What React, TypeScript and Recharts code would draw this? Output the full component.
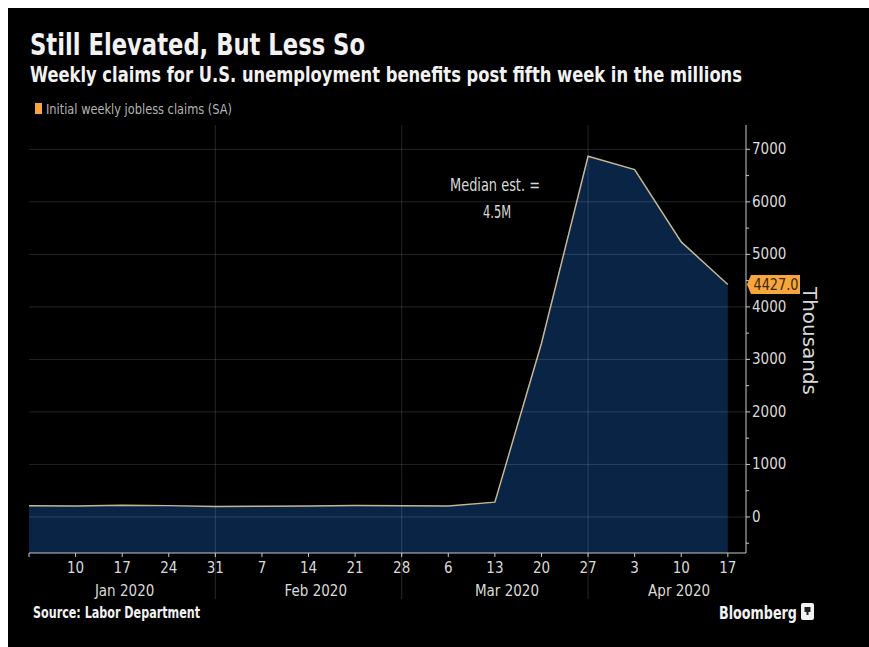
import React from 'react';
import { AreaChart, Area, XAxis, YAxis, ReferenceLine } from 'recharts';

// week-ending dates (Jan 3 .. Apr 17, 2020)
const WEEK_LABELS = ['3', '10', '17', '24', '31', '7', '14', '21', '28', '6', '13', '20', '27', '3', '10', '17'];
// initial weekly jobless claims, thousands (SA)
const CLAIMS = [214, 207, 223, 216, 201, 205, 210, 219, 216, 211, 282, 3307, 6867, 6615, 5237, 4427];
const MONTH_LABELS = ['Jan 2020', 'Feb 2020', 'Mar 2020', 'Apr 2020'];
const MONTH_POS = [2, 6, 10, 13.6];
const MONTH_BREAKS = [4, 8, 12];
const Y_TICKS = [-500, 0, 500, 1000, 1500, 2000, 2500, 3000, 3500, 4000, 4500, 5000, 5500, 6000, 6500, 7000];
const GRID_Y = [0, 1000, 2000, 3000, 4000, 5000, 6000, 7000];

const data = CLAIMS.map((v, i) => ({ i, claims: v, label: WEEK_LABELS[i] }));

const FONT = "'Liberation Sans Narrow', 'DejaVu Sans Condensed', 'Roboto', sans-serif";
const TXT = '#d9d9d9';
const GRID = 'rgba(255,255,255,0.14)';
const ORANGE = '#f6a63c';

function WeekTick(props: any) {
  const { x, y, payload } = props;
  const idx = payload.value;
  return (
    <g>
      <line x1={x} x2={x} y1={y} y2={y + 4} stroke="#c8c8c8" />
      {MONTH_BREAKS.includes(idx) && (
        <line x1={x} x2={x} y1={y} y2={y + 46} stroke="rgba(255,255,255,0.16)" />
      )}
      <text x={x} y={y} dy={19.5} textAnchor="middle" fill={TXT} fontSize={15} fontFamily={FONT}>
        {idx === 0 ? '' : WEEK_LABELS[idx]}
      </text>
    </g>
  );
}

function MonthTick(props: any) {
  const { x, y, index } = props;
  return (
    <text x={x} y={y} dy={18.5} textAnchor="middle" fill={TXT} fontSize={15} fontFamily={FONT}>
      {MONTH_LABELS[index]}
    </text>
  );
}

function ValueTick(props: any) {
  const { x, y, payload } = props;
  const v = payload.value;
  const major = v % 1000 === 0;
  return (
    <g>
      <line x1={x} x2={x + (major ? 4 : 3)} y1={y} y2={y} stroke="#c8c8c8" />
      {major && v >= 0 && (
        <text x={x + 6} y={y} dy={5} fill={TXT} fontSize={15} fontFamily={FONT}>
          {v}
        </text>
      )}
    </g>
  );
}

function LastTag(props: any) {
  const { viewBox } = props;
  const x = viewBox.x + viewBox.width + 1;
  const y = viewBox.y;
  const v = CLAIMS[CLAIMS.length - 1];
  return (
    <g>
      <polygon
        points={`${x},${y} ${x + 4},${y - 9.5} ${x + 53},${y - 9.5} ${x + 53},${y + 9.5} ${x + 4},${y + 9.5}`}
        fill={ORANGE}
      />
      <text x={x + 29} y={y} dy={5.5} textAnchor="middle" fill="#3b2608" fontSize={16} fontFamily={FONT}
        textLength={45} lengthAdjust="spacingAndGlyphs">
        {v.toFixed(1)}
      </text>
    </g>
  );
}

function AxisTitle(props: any) {
  const { viewBox } = props;
  const cx = viewBox.x + 63;
  const cy = viewBox.y + viewBox.height / 2 + 2;
  return (
    <text x={cx} y={cy} transform={`rotate(90 ${cx} ${cy})`} textAnchor="middle" dy={6}
      fill={TXT} fontSize={20} fontFamily={FONT} textLength={108} lengthAdjust="spacingAndGlyphs">
      Thousands
    </text>
  );
}

export default function App() {
  return (
    <div>
      <div style={{ position: 'fixed', left: 8, top: 8, width: 861, height: 639, background: '#000' }} />
      <div style={{ position: 'fixed', left: 0, top: 0 }}>
        <AreaChart width={869} height={647} data={data} margin={{ top: 125, right: 63, bottom: 46, left: 29 }}>
          <XAxis
            dataKey="i"
            type="number"
            domain={[0, 15.39]}
            ticks={WEEK_LABELS.map((_, i) => i)}
            allowDataOverflow
            height={24}
            tickSize={0}
            tickMargin={0}
            tickLine={false}
            axisLine={{ stroke: '#c8c8c8' }}
            tick={<WeekTick />}
            interval={0}
          />
          <XAxis
            xAxisId="month"
            type="number"
            domain={[0, 15.39]}
            ticks={MONTH_POS}
            allowDataOverflow
            height={24}
            tickSize={0}
            tickMargin={0}
            tickLine={false}
            axisLine={false}
            tick={<MonthTick />}
            interval={0}
          />
          <YAxis
            orientation="right"
            type="number"
            domain={[-686, 7463]}
            ticks={Y_TICKS}
            allowDataOverflow
            width={60}
            tickSize={0}
            tickMargin={0}
            tickLine={false}
            axisLine={{ stroke: '#c8c8c8' }}
            tick={<ValueTick />}
            interval={0}
            label={<AxisTitle />}
          />
          <Area
            type="linear"
            dataKey="claims"
            baseValue="dataMin"
            stroke="#c7b791"
            strokeWidth={1.5}
            fill="#0a2446"
            fillOpacity={1}
            isAnimationActive={false}
            dot={false}
            activeDot={false}
          />
          {GRID_Y.map((v) => (
            <ReferenceLine key={'gy' + v} y={v} stroke={GRID} />
          ))}
          {MONTH_BREAKS.map((v) => (
            <ReferenceLine key={'gx' + v} x={v} stroke={GRID} />
          ))}
          <ReferenceLine y={CLAIMS[CLAIMS.length - 1]} stroke="none" label={<LastTag />} />
        </AreaChart>
      </div>
      <svg width={869} height={647} style={{ position: 'fixed', left: 0, top: 0, pointerEvents: 'none' }}>
        <g fontFamily={FONT}>
          <text x={30} y={55} fill="#f2f2f2" fontSize={30} fontWeight="bold"
            textLength={335} lengthAdjust="spacingAndGlyphs">Still Elevated, But Less So</text>
          <text x={30} y={82} fill="#f2f2f2" fontSize={21} fontWeight="bold"
            textLength={712} lengthAdjust="spacingAndGlyphs">
            Weekly claims for U.S. unemployment benefits post fifth week in the millions
          </text>
          <rect x={35} y={103} width={7} height={11} fill={ORANGE} />
          <text x={46} y={114} fill="#b4b4b4" fontSize={14}
            textLength={186} lengthAdjust="spacingAndGlyphs">Initial weekly jobless claims (SA)</text>
          <text x={495} y={191} textAnchor="middle" fill={TXT} fontSize={17}
            textLength={90} lengthAdjust="spacingAndGlyphs">Median est. =</text>
          <text x={497} y={218} textAnchor="middle" fill={TXT} fontSize={17}
            textLength={28} lengthAdjust="spacingAndGlyphs">4.5M</text>
          <text x={33} y={618} fill="#f2f2f2" fontSize={15} fontWeight="bold"
            textLength={167} lengthAdjust="spacingAndGlyphs">Source: Labor Department</text>
          <text x={719} y={619} fill="#f2f2f2" fontSize={18} fontWeight="bold"
            textLength={78} lengthAdjust="spacingAndGlyphs">Bloomberg</text>
          <rect x={801} y={603} width={13} height={17} rx={2} fill="#f2f2f2" />
          <path d="M804.5 607 h6 v5 h-2 v3 h-2 v-3 h-2 z" fill="#222" />
        </g>
      </svg>
    </div>
  );
}
